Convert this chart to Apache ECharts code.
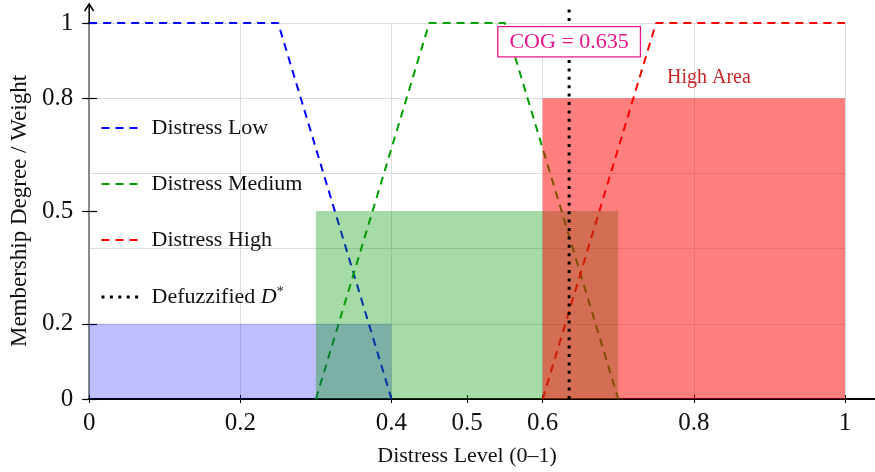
<!DOCTYPE html>
<html><head><meta charset="utf-8">
<script src="https://cdn.jsdelivr.net/npm/echarts@6/dist/echarts.min.js"></script>
<style>html,body{margin:0;padding:0;background:#fff}#c{width:875px;height:472px}</style>
</head><body><div id="c"></div>
<script>
// ---- data ----
const lowX = [0, 0.25, 0.4];
const lowY = [1, 1, 0];
const medX = [0.3, 0.45, 0.55, 0.7];
const medY = [0, 1, 1, 0];
const highX = [0.6, 0.75, 1];
const highY = [0, 1, 1];
const cogValue = 0.635;
const cogLineY = [0, 1.05];
const areaStart = [0, 0.3, 0.6];
const areaEnd = [0.4, 0.7, 1];
const areaWeight = [0.2, 0.5, 0.8];
const xTicks = [0, 0.2, 0.4, 0.5, 0.6, 0.8, 1];
const yTicks = [0, 0.2, 0.5, 0.8, 1];
const seriesNames = ['Distress Low', 'Distress Medium', 'Distress High', 'Defuzzified D*'];

const FONT = 'Liberation Serif';
const areaColors = ['rgba(0,0,255,0.25)', 'rgba(0,150,0,0.35)', 'rgba(255,0,0,0.5)'];
const pair = (xs, ys) => xs.map((x, i) => [x, ys[i]]);

const chart = echarts.init(document.getElementById('c'), null, {renderer: 'canvas'});

const gridLine = {show: true, lineStyle: {color: '#dcdcdc', width: 1}};

const option = {
  animation: false,
  backgroundColor: '#fff',
  grid: {left: 89, right: 30, top: 23, bottom: 72, containLabel: false},
  xAxis: [{
    type: 'value', min: 0, max: 1, interval: 0.2,
    name: 'Distress Level (0–1)', nameLocation: 'middle', nameGap: 46,
    nameTextStyle: {fontFamily: FONT, fontSize: 22, color: '#111'},
    axisLine: {show: true, onZero: false, lineStyle: {color: '#000', width: 2}},
    axisTick: {show: true, length: 4, customValues: xTicks, lineStyle: {color: '#000', width: 1}},
    axisLabel: {customValues: xTicks, margin: 12, fontFamily: FONT, fontSize: 25, color: '#111',
      formatter: v => String(+v.toFixed(2))},
    splitLine: {show: false}
  }, {
    type: 'value', min: 0, max: 1, position: 'bottom',
    axisLine: {show: false},
    axisTick: {show: true, inside: true, length: 4, customValues: xTicks, lineStyle: {color: '#000', width: 1}},
    axisLabel: {show: false}, splitLine: {show: false}
  }, {
    type: 'value', min: 0, max: 1, interval: 0.2, position: 'bottom',
    axisLine: {show: false}, axisTick: {show: false}, axisLabel: {show: false},
    splitLine: gridLine
  }],
  yAxis: [{
    type: 'value', min: 0, max: 1, interval: 0.2,
    name: 'Membership Degree / Weight', nameLocation: 'middle', nameGap: 57,
    nameTextStyle: {fontFamily: FONT, fontSize: 23, color: '#111'},
    axisLine: {show: true, onZero: false, lineStyle: {color: '#8a8a8a', width: 2}},
    axisTick: {show: true, length: 7, customValues: yTicks, lineStyle: {color: '#000', width: 1.2}},
    axisLabel: {customValues: yTicks, margin: 16, fontFamily: FONT, fontSize: 25, color: '#111',
      formatter: v => String(+v.toFixed(2))},
    splitLine: {show: false}
  }, {
    type: 'value', min: 0, max: 1, position: 'left',
    axisLine: {show: false},
    axisTick: {show: true, inside: true, length: 8, customValues: yTicks, lineStyle: {color: '#000', width: 1.2}},
    axisLabel: {show: false}, splitLine: {show: false}
  }, {
    type: 'value', min: 0, max: 1, interval: 0.2, position: 'left',
    axisLine: {show: false}, axisTick: {show: false}, axisLabel: {show: false},
    splitLine: gridLine
  }],
  legend: {
    show: true, orient: 'vertical', left: 95, top: 112,
    itemWidth: 38, itemHeight: 14, itemGap: 34,
    data: [
      {name: seriesNames[0]}, {name: seriesNames[1]}, {name: seriesNames[2]},
      {name: seriesNames[3], lineStyle: {width: 3, type: [3, 5.4]}}
    ],
    itemStyle: {opacity: 0},
    textStyle: {fontFamily: FONT, fontSize: 22, color: '#111', lineHeight: 22, padding: [0, 0, 0, 7],
      rich: {i: {fontFamily: FONT, fontSize: 22, fontStyle: 'italic', color: '#111'},
             s: {fontFamily: FONT, fontSize: 14, color: '#111', padding: [0, 0, 10, 0]}}},
    formatter: n => n === 'Defuzzified D*' ? 'Defuzzified {i|D}{s|*}' : n
  },
  series: [
    {name: seriesNames[0], type: 'line', data: pair(lowX, lowY), symbol: 'none', z: 2,
      lineStyle: {color: '#0000ff', width: 2, type: [8, 6]}, itemStyle: {color: '#0000ff'}},
    {name: seriesNames[1], type: 'line', data: pair(medX, medY), symbol: 'none', z: 2,
      lineStyle: {color: '#00a000', width: 2, type: [8, 6]}, itemStyle: {color: '#00a000'}},
    {name: seriesNames[2], type: 'line', data: pair(highX, highY), symbol: 'none', z: 2,
      lineStyle: {color: '#ff0000', width: 2, type: [8, 6]}, itemStyle: {color: '#ff0000'}},
    {name: 'areas', type: 'custom', z: 3,
      data: areaStart.map((s, i) => [s, areaEnd[i], areaWeight[i]]),
      encode: {x: [0, 1], y: 2},
      renderItem: (params, api) => {
        const p0 = api.coord([api.value(0), api.value(2)]);
        const p1 = api.coord([api.value(1), 0]);
        return {type: 'rect', shape: {x: p0[0], y: p0[1], width: p1[0] - p0[0], height: p1[1] - p0[1]},
          style: {fill: areaColors[params.dataIndex]}};
      },
      markPoint: {symbol: 'circle', symbolSize: 0, silent: true,
        data: [{coord: [0.82, 0.855], label: {show: true, position: 'inside', formatter: 'High Area',
          fontFamily: FONT, fontSize: 20, color: '#c62828'}}]}
    },
    {name: seriesNames[3], type: 'line', data: pair([cogValue, cogValue], cogLineY), symbol: 'none', z: 4, clip: false,
      lineStyle: {color: '#000', width: 3, type: [3, 5.4]}, itemStyle: {color: '#000'},
      markPoint: {symbol: 'circle', symbolSize: 0, silent: true,
        data: [{coord: [cogValue, 0.95], label: {show: true, position: 'inside', formatter: 'COG = ' + cogValue.toFixed(3),
          fontFamily: FONT, fontSize: 22, color: '#e8168c', backgroundColor: '#fff',
          borderColor: '#e8168c', borderWidth: 1.3, padding: [4, 11, 3, 11]}}]}
    }
  ]
};
chart.setOption(option);

// axis extensions (arrow on y axis, x axis running to the edge)
const o = chart.convertToPixel({gridIndex: 0}, [0, 1]);
const e = chart.convertToPixel({gridIndex: 0}, [1, 0]);
chart.setOption({graphic: [
  {type: 'line', shape: {x1: o[0], y1: o[1], x2: o[0], y2: 5}, style: {stroke: '#000', lineWidth: 1.5}, z: 10},
  {type: 'polyline', shape: {points: [[o[0] - 4.5, 11], [o[0], 4], [o[0] + 4.5, 11]]}, style: {stroke: '#000', lineWidth: 1.5, fill: null}, z: 10},
  {type: 'line', shape: {x1: e[0], y1: e[1], x2: 875, y2: e[1]}, style: {stroke: '#000', lineWidth: 2}, z: 10}
]});
</script></body></html>
